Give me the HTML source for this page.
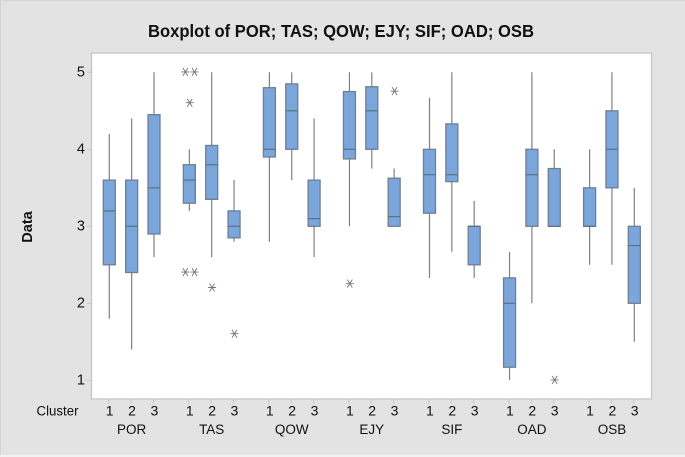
<!DOCTYPE html>
<html lang="en">
<head>
<meta charset="utf-8">
<title>Boxplot of POR; TAS; QOW; EJY; SIF; OAD; OSB</title>
<style>
html,body{margin:0;padding:0;background:#e3e3e3;}
svg{display:block;}
text{font-family:"Liberation Sans",Arial,sans-serif;fill:#111;}
</style>
</head>
<body>
<svg id="chart" width="685" height="457" viewBox="0 0 685 457" xmlns="http://www.w3.org/2000/svg">
  <rect x="0" y="0" width="685" height="457" fill="#e3e3e3"/>
  <rect x="0" y="0" width="685" height="1" fill="#d4d4d4"/>
  <rect x="0" y="0" width="1" height="457" fill="#d4d4d4"/>
  <rect x="0" y="455" width="685" height="2" fill="#f2f2f2"/>
  <rect x="91.5" y="53" width="560" height="346" fill="#fff" stroke="#c6c6c6" stroke-width="1.3"/>
  <text x="341" y="37" text-anchor="middle" font-size="17.5" font-weight="700" textLength="386" lengthAdjust="spacingAndGlyphs">Boxplot of POR; TAS; QOW; EJY; SIF; OAD; OSB</text>
  <text transform="translate(32,227) rotate(-90)" text-anchor="middle" font-size="14.5" font-weight="700">Data</text>
  <text x="36.5" y="415.5" font-size="13.5" textLength="42" lengthAdjust="spacingAndGlyphs">Cluster</text>
  <g id="axes"></g>
  <g id="marks"></g>
</svg>
<script>
const variables = ["POR", "TAS", "QOW", "EJY", "SIF", "OAD", "OSB"];
const clusters = ["1", "2", "3"];
const yTicks = [1, 2, 3, 4, 5];
const whiskerLow = [
  1.8, 1.4, 2.6,
  3.2, 2.6, 2.8,
  2.8, 3.6, 2.6,
  3.0, 3.75, 3.0,
  2.33, 2.67, 2.33,
  1.0, 2.0, 3.0,
  2.5, 2.5, 1.5
];
const quartile1 = [
  2.5, 2.4, 2.9,
  3.3, 3.35, 2.85,
  3.9, 4.0, 3.0,
  3.875, 4.0, 3.0,
  3.17, 3.58, 2.5,
  1.17, 3.0, 3.0,
  3.0, 3.5, 2.0
];
const medians = [
  3.2, 3.0, 3.5,
  3.6, 3.8, 3.0,
  4.0, 4.5, 3.1,
  4.0, 4.5, 3.125,
  3.67, 3.67, 3.0,
  2.0, 3.67, 3.0,
  3.0, 4.0, 2.75
];
const quartile3 = [
  3.6, 3.6, 4.45,
  3.8, 4.05, 3.2,
  4.8, 4.85, 3.6,
  4.75, 4.8125, 3.625,
  4.0, 4.33, 3.0,
  2.33, 4.0, 3.75,
  3.5, 4.5, 3.0
];
const whiskerHigh = [
  4.2, 4.4, 5.0,
  4.0, 5.0, 3.6,
  5.0, 5.0, 4.4,
  5.0, 5.0, 3.75,
  4.67, 5.0, 3.33,
  2.67, 5.0, 4.0,
  4.0, 5.0, 3.5
];
const outliers = [
  [], [], [],
  [5, 5, 4.6, 2.4, 2.4], [2.2], [1.6],
  [], [], [],
  [2.25], [], [4.75],
  [], [], [],
  [], [], [1],
  [], [], []
];

const SVG_NS = "http://www.w3.org/2000/svg";
const boxWidth = 12;
function xPos(groupIndex, clusterIndex) { return 109.3 + 80.05 * groupIndex + 22.35 * clusterIndex; }
function yPos(value) { return 380.3 - 77 * (value - 1); }
function make(tag, attrs, parent) {
  const el = document.createElementNS(SVG_NS, tag);
  for (const k in attrs) el.setAttribute(k, attrs[k]);
  parent.appendChild(el);
  return el;
}
const axes = document.getElementById("axes");
const marks = document.getElementById("marks");

yTicks.forEach(function (t) {
  const tick = make("line", {x1: 87, x2: 91.5, y1: yPos(t), y2: yPos(t), stroke: "#c6c6c6"}, axes);
  
  
  const label = make("text", {x: 85, y: yPos(t) + 4, "text-anchor": "end", "font-size": 14.5}, axes);
  label.textContent = String(t);
  
  
});

variables.forEach(function (name, g) {
  clusters.forEach(function (c, ci) {
    const x = xPos(g, ci);
    const tick = make("line", {x1: x - 0.6, x2: x - 0.6, y1: 399, y2: 403.5, stroke: "#c6c6c6"}, axes);
    
    
    const label = make("text", {x: x + 0.4, y: 415.5, "text-anchor": "middle", "font-size": 14}, axes);
    label.textContent = c;
    
    

    const i = g * 3 + ci;
    const whisker = make("line", {x1: x, x2: x, y1: yPos(whiskerLow[i]), y2: yPos(whiskerHigh[i]), stroke: "#808080", "stroke-width": 1.2}, marks);
    
    
    const top = yPos(quartile3[i]);
    const box = make("rect", {x: x - boxWidth / 2, y: top, width: boxWidth, height: yPos(quartile1[i]) - top, fill: "#7ba6db", stroke: "#6f7f92", "stroke-width": 1.3}, marks);
    
    
    const med = make("line", {x1: x - boxWidth / 2, x2: x + boxWidth / 2, y1: yPos(medians[i]), y2: yPos(medians[i]), stroke: "#5f6f82", "stroke-width": 1.2}, marks);
    
    

    outliers[i].forEach(function (v, k, arr) {
      const twins = arr.filter(function (o) { return o === v; }).length;
      const dx = twins > 1 ? (arr.indexOf(v) === k ? -4 : 5.2) : 0.4;
      const ox = x + dx;
      const oy = yPos(v) - 0.4;
      const r = 4;
      const star = make("path", {
        d: "M" + (ox - r) + " " + oy + "H" + (ox + r) +
           "M" + (ox - 2.5) + " " + (oy - r) + "L" + (ox + 2.5) + " " + (oy + r) +
           "M" + (ox - 2.5) + " " + (oy + r) + "L" + (ox + 2.5) + " " + (oy - r),
        stroke: "#757575", "stroke-width": 0.9, fill: "none"
      }, marks);
      
      
    });
  });
  const groupLabel = make("text", {x: xPos(g, 1), y: 434, "text-anchor": "middle", "font-size": 13.5}, axes);
  groupLabel.textContent = name;
  
  
});
</script>
</body>
</html>
